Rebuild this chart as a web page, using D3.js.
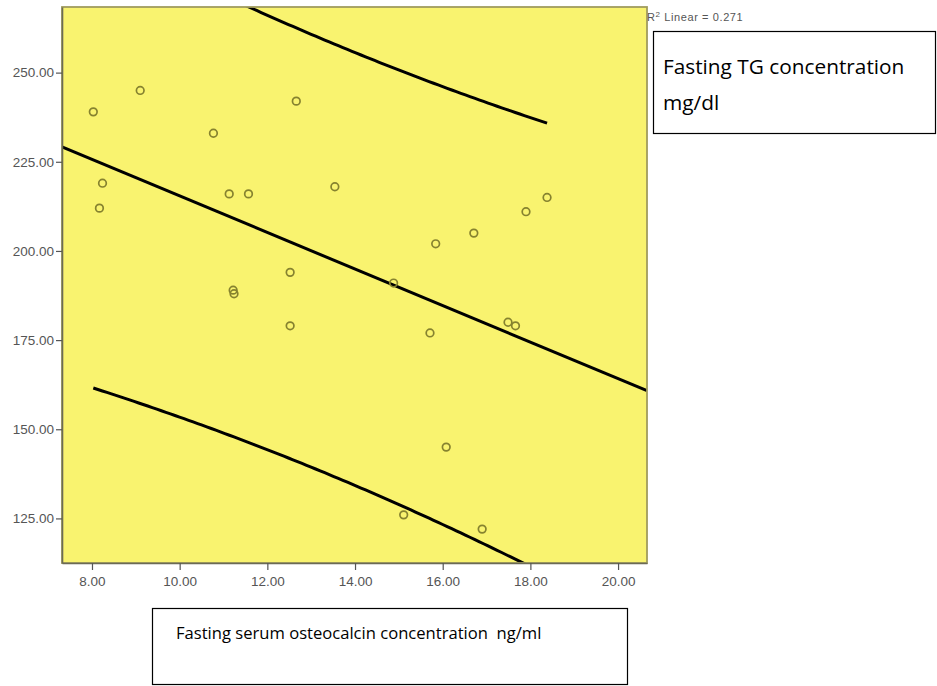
<!DOCTYPE html>
<html>
<head>
<meta charset="utf-8">
<script src="https://cdn.jsdelivr.net/npm/d3@7"></script>
<style>
  body { margin: 0; background: #fff; }
  svg { display: block; }
</style>
</head>
<body>
<div id="chart"></div>
<script>
// osteocalcin (ng/ml) vs fasting TG (mg/dl)
const osteocalcin = [8.03, 9.10, 10.77, 12.66, 8.24, 8.17, 11.13, 11.57, 13.54, 12.52, 11.22, 11.24,
    12.52, 18.38, 17.90, 16.71, 15.84, 14.88, 15.71, 17.49, 17.66, 16.08, 15.11, 16.90];
const fastingTG = [239, 245, 233, 242, 219, 212, 216, 216, 218, 194, 189, 188,
    179, 215, 211, 205, 202, 191, 177, 180, 179, 145, 126, 122];

const xTicks = [8, 10, 12, 14, 16, 18, 20];
const yTicks = [125, 150, 175, 200, 225, 250];
const xDomain = [7.316, 20.66];
const yDomain = [112.5, 268.4];
const tCrit = 2.074; // t(0.975, df = 22)
const r2Value = '0.271';

const W = 937, H = 686;
const margin = { top: 7, left: 62 };
const width = 585, height = 556;

const svg = d3.select('#chart').append('svg')
    .attr('width', W)
    .attr('height', H);

const g = svg.append('g')
    .attr('transform', 'translate(' + margin.left + ',' + margin.top + ')');

const xScale = d3.scaleLinear().domain(xDomain).range([0, width]);
const yScale = d3.scaleLinear().domain(yDomain).range([height, 0]);

// plot background
g.append('rect')
    .attr('width', width)
    .attr('height', height)
    .attr('fill', '#f9f36f');

g.append('clipPath').attr('id', 'plotClip')
    .append('rect').attr('width', width).attr('height', height);

// linear fit and 95% individual prediction interval
const data = osteocalcin.map((x, i) => ({ x: x, y: fastingTG[i] }));
const n = data.length;
const mx = d3.mean(data, d => d.x), my = d3.mean(data, d => d.y);
const sxx = d3.sum(data, d => (d.x - mx) * (d.x - mx));
const sxy = d3.sum(data, d => (d.x - mx) * (d.y - my));
const syy = d3.sum(data, d => (d.y - my) * (d.y - my));
const slope = sxy / sxx, intercept = my - slope * mx;
const se = Math.sqrt((syy - slope * sxy) / (n - 2));
const fit = x => intercept + slope * x;
const half = x => tCrit * se * Math.sqrt(1 + 1 / n + (x - mx) * (x - mx) / sxx);

const line = d3.line().x(d => xScale(d[0])).y(d => yScale(d[1]));
const lines = g.append('g').attr('clip-path', 'url(#plotClip)');

lines.append('path')
    .attr('d', line(xDomain.map(x => [x, fit(x)])))
    .attr('fill', 'none').attr('stroke', '#000').attr('stroke-width', 3);

const xMin = d3.min(osteocalcin), xMax = d3.max(osteocalcin);
const xs = d3.range(0, 101).map(i => xMin + (xMax - xMin) * i / 100);
[1, -1].forEach(sign => {
    lines.append('path')
        .attr('d', line(xs.map(x => [x, fit(x) + sign * half(x)])))
        .attr('fill', 'none').attr('stroke', '#000').attr('stroke-width', 3);
});

// points
g.append('g')
    .selectAll('circle')
    .data(data)
    .join('circle')
    .attr('cx', d => xScale(d.x))
    .attr('cy', d => yScale(d.y))
    .attr('r', 3.8)
    .attr('fill', 'none')
    .attr('stroke', '#86822f')
    .attr('stroke-width', 1.7);

// frame
g.append('rect')
    .attr('width', width)
    .attr('height', height)
    .attr('fill', 'none')
    .attr('stroke', '#a09c5e')
    .attr('stroke-width', 1.8);

// axes
const xAxis = g.append('g')
    .attr('transform', 'translate(0,' + height + ')')
    .call(d3.axisBottom(xScale).tickValues(xTicks).tickFormat(d3.format('.2f')).tickSizeInner(7).tickSizeOuter(0).tickPadding(6));
const yAxis = g.append('g')
    .call(d3.axisLeft(yScale).tickValues(yTicks).tickFormat(d3.format('.2f')).tickSizeInner(6).tickSizeOuter(0).tickPadding(2));

[xAxis, yAxis].forEach(a => {
    a.select('.domain').attr('stroke', '#6b6a55').attr('stroke-width', 1.6);
    a.selectAll('.tick line').attr('stroke', '#555').attr('stroke-width', 1.2);
    a.selectAll('.tick text')
        .attr('fill', '#555')
        .style('font-family', 'Liberation Sans, Arial, sans-serif')
        .style('font-size', '13.5px');
});

// R squared label
const r2Text = svg.append('text')
    .attr('x', 647).attr('y', 21)
    .style('font-family', 'Liberation Sans, Arial, sans-serif')
    .style('font-size', '11px')
    .style('letter-spacing', '0.6px')
    .attr('fill', '#555');
r2Text.append('tspan').text('R');
r2Text.append('tspan').attr('dy', -4).style('font-size', '8px').text('2');
r2Text.append('tspan').attr('dy', 4).text(' Linear = ' + r2Value);

// text boxes
svg.append('rect')
    .attr('x', 653.5).attr('y', 31.5).attr('width', 282).attr('height', 102)
    .attr('fill', '#fff').attr('stroke', '#000').attr('stroke-width', 1.2);
svg.append('text')
    .attr('x', 663).attr('y', 74)
    .style('font-family', 'Open Sans, sans-serif').style('font-size', '20.8px')
    .text('Fasting TG concentration');
svg.append('text')
    .attr('x', 663).attr('y', 110)
    .style('font-family', 'Open Sans, sans-serif').style('font-size', '20.8px')
    .text('mg/dl');

svg.append('rect')
    .attr('x', 152.5).attr('y', 608.5).attr('width', 475).attr('height', 76)
    .attr('fill', '#fff').attr('stroke', '#000').attr('stroke-width', 1.2);
svg.append('text')
    .attr('x', 176).attr('y', 639)
    .style('font-family', 'Open Sans, sans-serif').style('font-size', '16.6px')
    .style('white-space', 'pre')
    .text('Fasting serum osteocalcin concentration  ng/ml');
</script>
</body>
</html>
